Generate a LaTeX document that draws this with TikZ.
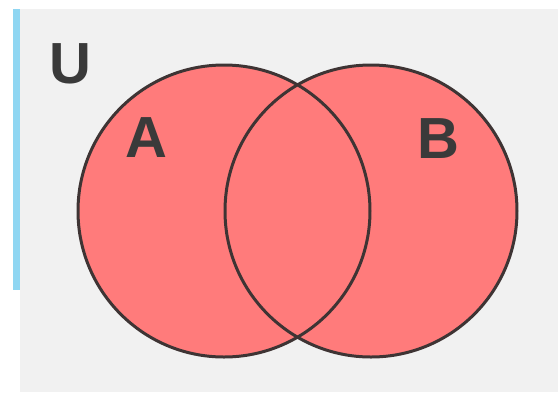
\documentclass[tikz,border=0pt]{standalone}
\usepackage{fontspec}
\setmainfont{Liberation Sans}
\definecolor{panel}{HTML}{F1F1F1}
\definecolor{strip}{HTML}{8FD6F2}
\definecolor{setred}{HTML}{FF7B7B}
\definecolor{edge}{HTML}{3E3434}
\definecolor{ink}{HTML}{3A3A3A}
\tikzset{
  setfill/.style={circle, fill=setred, inner sep=0pt, minimum size=292pt},
  setedge/.style={circle, draw=edge, line width=3pt, inner sep=0pt, minimum size=292pt},
  lbl/.style={text=ink, font=\fontsize{58}{60}\selectfont\bfseries, inner sep=0pt, anchor=base}
}
\begin{document}
\begin{tikzpicture}[x=1pt,y=-1pt]
\useasboundingbox (0,0) rectangle (558,392);
\fill[white] (0,0) rectangle (558,392);
\fill[panel] (20,9) rectangle (558,392);
\fill[strip] (13,9) rectangle (20,290);
\node[setfill] (fa) at (224,211) {};
\node[setfill] (fb) at (371,211) {};
\node[setedge] (A) at (fa.center) {};
\node[setedge] (B) at (fb.center) {};
\node[lbl] (u) at (70,83) {U};
\node[lbl] (la) at (146,157) {A};
\node[lbl] (lb) at (438,158) {B};
\end{tikzpicture}
\end{document}
